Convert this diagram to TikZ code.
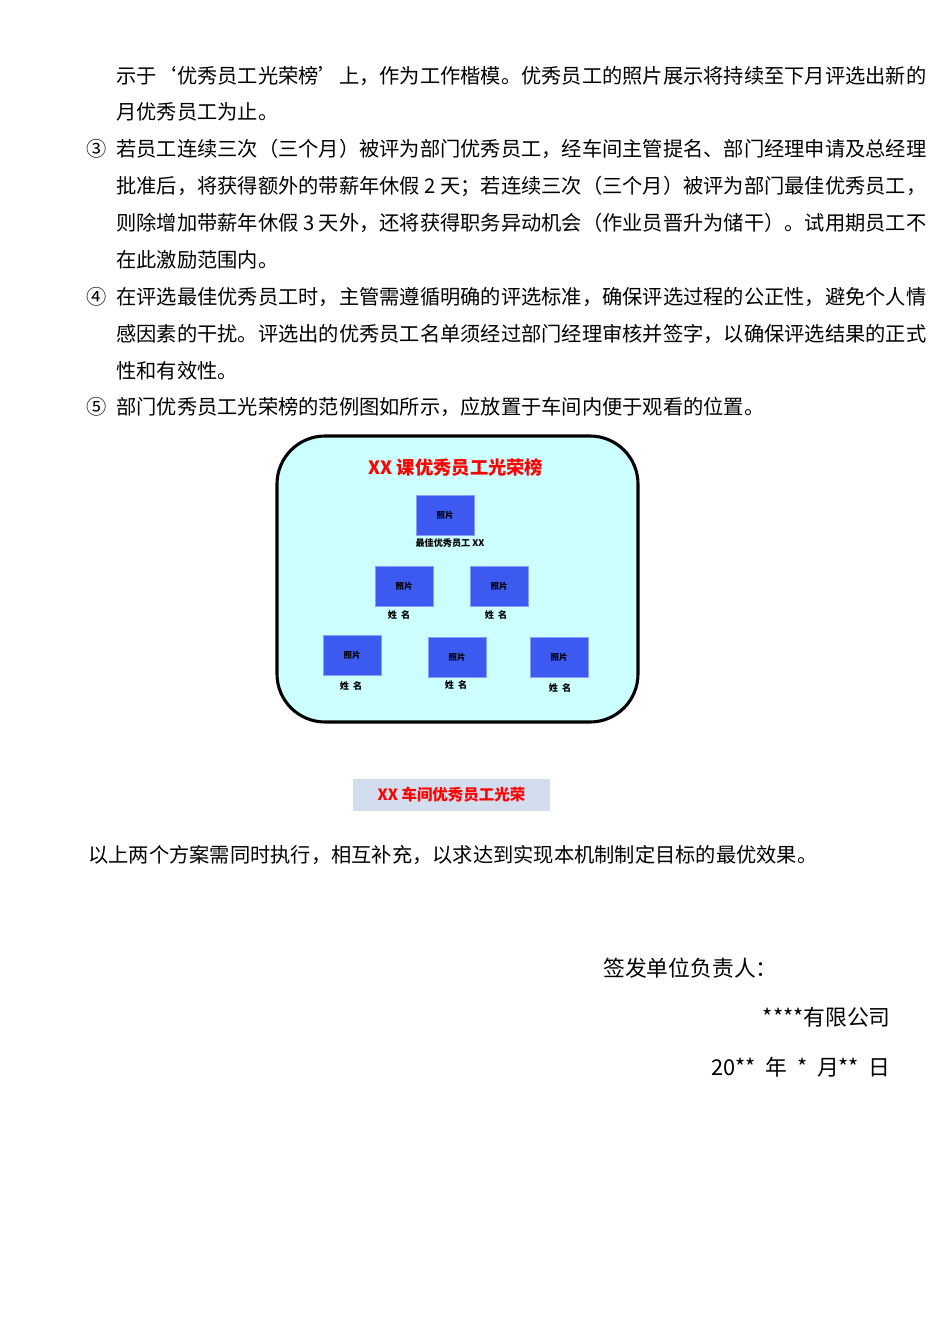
\documentclass[tikz,border=0pt]{standalone}
\usepackage{fontspec}
\setmainfont{Noto Sans CJK SC}
\usetikzlibrary{positioning}
\definecolor{boardfill}{RGB}{204,255,255}
\definecolor{photoblue}{RGB}{61,90,240}
\definecolor{labelfill}{RGB}{210,222,238}
\begin{document}
\begin{tikzpicture}[x=0.025cm,y=-0.025cm,
    body/.style={anchor=west,inner sep=0pt,font=\fontsize{14.4}{16}\selectfont},
    photo/.style={draw=photoblue!60,fill=photoblue,minimum width=1.45cm,minimum height=1cm,inner sep=0pt,font=\fontsize{6}{7}\selectfont\bfseries},
    nametag/.style={inner sep=0pt,font=\fontsize{6.5}{7}\selectfont\bfseries},
    ]
    \useasboundingbox (0,0) rectangle (950,1344);
    \fill[white] (0,0) rectangle (950,1344);
    % body text
    \node[body] (l1) at (116,76) {示于‘优秀员工光荣榜’上，作为工作楷模。优秀员工的照片展示将持续至下月评选出新的};
    \node[body] (l2) at (116,112) {月优秀员工为止。};
    \node[body] (n3) at (86,149) {③};
    \node[body] (l3) at (116,149) {若员工连续三次（三个月）被评为部门优秀员工，经车间主管提名、部门经理申请及总经理};
    \node[body] (l4) at (116,186) {批准后，将获得额外的带薪年休假 2 天；若连续三次（三个月）被评为部门最佳优秀员工，};
    \node[body] (l5) at (116,223) {则除增加带薪年休假 3 天外，还将获得职务异动机会（作业员晋升为储干）。试用期员工不};
    \node[body] (l6) at (116,260) {在此激励范围内。};
    \node[body] (n4) at (86,297) {④};
    \node[body] (l7) at (116,297) {在评选最佳优秀员工时，主管需遵循明确的评选标准，确保评选过程的公正性，避免个人情};
    \node[body] (l8) at (116,334) {感因素的干扰。评选出的优秀员工名单须经过部门经理审核并签字，以确保评选结果的正式};
    \node[body] (l9) at (116,371) {性和有效性。};
    \node[body] (n5) at (86,407) {⑤};
    \node[body] (l10) at (116,407) {部门优秀员工光荣榜的范例图如所示，应放置于车间内便于观看的位置。};
    % honour board
    \draw[line width=2.2pt,fill=boardfill,rounded corners=1.2cm] (277,436) rectangle (638,722);
    \node[text=red,font=\fontsize{13}{14}\selectfont\bfseries] (title) at (456,468) {XX 课优秀员工光荣榜};
    \node[photo] (p1) at (445,515) {照片};
    \node[nametag] (c1) at (450,543) {最佳优秀员工 XX};
    \node[photo] (p2) at (404,586) {照片};
    \node[photo] (p3) at (499,586) {照片};
    \node[photo] (p4) at (352,655) {照片};
    \node[photo] (p5) at (457,657) {照片};
    \node[photo] (p6) at (559,657) {照片};
    \node[nametag] (m2) at (399,615) {姓\ \ 名};
    \node[nametag] (m3) at (496,615) {姓\ \ 名};
    \node[nametag] (m4) at (351,686) {姓\ \ 名};
    \node[nametag] (m5) at (456,685) {姓\ \ 名};
    \node[nametag] (m6) at (560,688) {姓\ \ 名};
    \node[fill=labelfill,text=red,minimum width=4.92cm,minimum height=0.8cm,font=\fontsize{11}{12}\selectfont\bfseries] (cap) at (451.5,795) {XX 车间优秀员工光荣};
    % closing
    \node[body] (l11) at (88,855) {以上两个方案需同时执行，相互补充，以求达到实现本机制制定目标的最优效果。};
    \node[body,font=\fontsize{15.5}{18}\selectfont] (sig) at (603,968) {签发单位负责人：};
    \node[body,anchor=east,font=\fontsize{15.5}{18}\selectfont] (co) at (891,1017) {****有限公司};
    \node[body,anchor=east,font=\fontsize{15.5}{18}\selectfont] (dt) at (891,1067) {20**\ \ 年\ \ *\ \ 月**\ \ 日};
\end{tikzpicture}
\end{document}
